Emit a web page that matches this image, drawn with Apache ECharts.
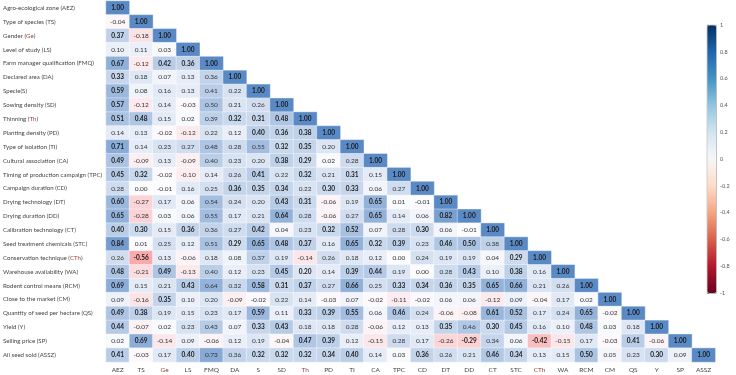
<!DOCTYPE html>
<html>
<head>
<meta charset="utf-8">
<script src="https://cdn.jsdelivr.net/npm/echarts@6/dist/echarts.min.js"></script>
<style>
  html, body { margin: 0; padding: 0; background: #fff; }
  #chart { width: 736px; height: 375px; }
</style>
</head>
<body>
<div id="chart"></div>
<script>
// short codes on the x axis
const codes = ['AEZ', 'TS', 'Ge', 'LS', 'FMQ', 'DA', 'S', 'SD', 'Th', 'PD', 'TI', 'CA', 'TPC',
  'CD', 'DT', 'DD', 'CT', 'STC', 'CTh', 'WA', 'RCM', 'CM', 'QS', 'Y', 'SP', 'ASSZ'];

// long names on the y axis
const names = ['Agro-ecological zone (AEZ)', 'Type of species (TS)', 'Gender (Ge)', 'Level of study (LS)',
  'Farm manager qualification (FMQ)', 'Declared area (DA)', 'Specie(S)', 'Sowing density (SD)',
  'Thinning (Th)', 'Planting density (PD)', 'Type of isolation (TI)', 'Cultural association (CA)',
  'Timing of production campaign (TPC)', 'Campaign duration (CD)', 'Drying technology (DT)',
  'Drying duration (DD)', 'Calibration technology (CT)', 'Seed treatment chemicals (STC)',
  'Conservation technique (CTh)', 'Warehouse availability (WA)', 'Rodent control means (RCM)',
  'Close to the market (CM)', 'Quantity of seed per hectare (QS)', 'Yield (Y)',
  'Selling price (SP)', 'All seed sold (ASSZ)'];

// lower triangle of the correlation matrix, one row per variable
const rAEZ = [1.00];
const rTS = [-0.04, 1.00];
const rGe = [0.37, -0.18, 1.00];
const rLS = [0.10, 0.11, 0.03, 1.00];
const rFMQ = [0.67, -0.12, 0.42, 0.36, 1.00];
const rDA = [0.33, 0.18, 0.07, 0.13, 0.36, 1.00];
const rS = [0.59, 0.08, 0.16, 0.13, 0.41, 0.22, 1.00];
const rSD = [0.57, -0.12, 0.14, -0.03, 0.50, 0.21, 0.26, 1.00];
const rTh = [0.51, 0.48, 0.15, 0.02, 0.39, 0.32, 0.31, 0.48, 1.00];
const rPD = [0.14, 0.13, -0.02, -0.12, 0.22, 0.12, 0.40, 0.36, 0.38, 1.00];
const rTI = [0.71, 0.14, 0.23, 0.27, 0.48, 0.28, 0.55, 0.32, 0.35, 0.20, 1.00];
const rCA = [0.49, -0.09, 0.13, -0.09, 0.40, 0.23, 0.20, 0.38, 0.29, 0.02, 0.28, 1.00];
const rTPC = [0.45, 0.32, -0.02, -0.10, 0.14, 0.26, 0.41, 0.22, 0.32, 0.21, 0.31, 0.15, 1.00];
const rCD = [0.28, 0.00, -0.01, 0.16, 0.25, 0.36, 0.35, 0.34, 0.22, 0.30, 0.33, 0.06, 0.27, 1.00];
const rDT = [0.60, -0.27, 0.17, 0.06, 0.54, 0.24, 0.20, 0.43, 0.31, -0.06, 0.19, 0.65, 0.01, -0.01, 1.00];
const rDD = [0.65, -0.28, 0.03, 0.06, 0.55, 0.17, 0.21, 0.64, 0.28, -0.06, 0.27, 0.65, 0.14, 0.06, 0.82, 1.00];
const rCT = [0.40, 0.30, 0.15, 0.36, 0.36, 0.27, 0.42, 0.04, 0.23, 0.32, 0.52, 0.07, 0.28, 0.30, 0.06, -0.01, 1.00];
const rSTC = [0.84, 0.01, 0.25, 0.12, 0.51, 0.29, 0.65, 0.48, 0.37, 0.16, 0.65, 0.32, 0.39, 0.23, 0.46, 0.50, 0.38, 1.00];
const rCTh = [0.26, -0.56, 0.13, -0.06, 0.18, 0.08, 0.37, 0.19, -0.14, 0.26, 0.18, 0.12, 0.00, 0.24, 0.19, 0.19, 0.04, 0.29, 1.00];
const rWA = [0.48, -0.21, 0.49, -0.13, 0.40, 0.12, 0.23, 0.45, 0.20, 0.14, 0.39, 0.44, 0.19, 0.00, 0.28, 0.43, 0.10, 0.38, 0.16, 1.00];
const rRCM = [0.69, 0.15, 0.21, 0.43, 0.64, 0.32, 0.58, 0.31, 0.37, 0.27, 0.66, 0.25, 0.33, 0.34, 0.36, 0.35, 0.65, 0.66, 0.21, 0.26, 1.00];
const rCM = [0.09, -0.16, 0.35, 0.10, 0.20, -0.09, -0.02, 0.22, 0.14, -0.03, 0.07, -0.02, -0.11, -0.02, 0.06, 0.06, -0.12, 0.09, -0.04, 0.17, 0.02, 1.00];
const rQS = [0.49, 0.38, 0.19, 0.15, 0.23, 0.17, 0.59, 0.11, 0.33, 0.39, 0.55, 0.06, 0.46, 0.24, -0.06, -0.08, 0.61, 0.52, 0.17, 0.24, 0.65, -0.02, 1.00];
const rY = [0.44, -0.07, 0.02, 0.23, 0.43, 0.07, 0.33, 0.43, 0.18, 0.18, 0.28, -0.06, 0.12, 0.13, 0.35, 0.46, 0.30, 0.45, 0.16, 0.10, 0.48, 0.03, 0.18, 1.00];
const rSP = [0.02, 0.69, -0.14, 0.09, -0.06, 0.12, 0.19, -0.04, 0.47, 0.39, 0.12, -0.15, 0.28, 0.17, -0.26, -0.29, 0.34, 0.06, -0.42, -0.15, 0.17, -0.03, 0.41, -0.06, 1.00];
const rASSZ = [0.41, -0.03, 0.17, 0.40, 0.73, 0.36, 0.32, 0.32, 0.32, 0.34, 0.40, 0.14, 0.03, 0.36, 0.26, 0.21, 0.46, 0.34, 0.13, 0.15, 0.50, 0.05, 0.23, 0.30, 0.09, 1.00];

const rows = [rAEZ, rTS, rGe, rLS, rFMQ, rDA, rS, rSD, rTh, rPD, rTI, rCA, rTPC, rCD, rDT, rDD,
  rCT, rSTC, rCTh, rWA, rRCM, rCM, rQS, rY, rSP, rASSZ];

// significant coefficients (printed in bold), column indexes per row; diagonal always bold
const sig = [[], [], [0], [], [0, 2, 3], [0], [0], [0], [0, 1, 5, 6, 7], [6, 7, 8], [0, 7, 8], [0, 7, 8],
  [0, 1, 6, 8, 10], [5, 6, 7, 9, 10], [0, 7, 8, 11], [0, 7, 11, 14], [0, 1, 3, 6, 9, 10, 13],
  [0, 5, 6, 7, 8, 10, 11, 12, 14, 15], [1, 17], [0, 2, 7, 8, 10, 11, 15, 17],
  [0, 3, 6, 7, 8, 10, 12, 13, 14, 15, 16, 17], [2], [0, 1, 6, 8, 9, 10, 12, 16, 17, 20],
  [0, 6, 7, 14, 16, 17, 20], [1, 8, 9, 15, 18, 22], [0, 3, 6, 7, 8, 9, 10, 13, 16, 17, 20, 23]];

// colour bar ticks
const barMin = -1, barMax = 1, barStep = 0.2;

const cells = [];
rows.forEach((row, i) => {
  row.forEach((v, j) => {
    cells.push([j, i, v, (i === j || sig[i].indexOf(j) >= 0) ? 1 : 0]);
  });
});

const flagged = ['Ge', 'Th', 'CTh'];
function markCode(s) {
  let out = s;
  flagged.forEach(c => {
    if (s === c) out = '{u|' + c + '}';
    else if (s.endsWith('(' + c + ')')) out = s.slice(0, -c.length - 1) + '{u|' + c + '})';
  });
  return out;
}
const richX = { u: { color: '#9c3b3b', fontSize: 6.5, fontFamily: 'Lato' } };
const richY = { u: { color: '#9c3b3b', fontSize: 6.1, fontFamily: 'Lato' } };

const chart = echarts.init(document.getElementById('chart'));
chart.setOption({
  animation: false,
  textStyle: { fontFamily: 'Lato' },
  grid: [
    { left: 105.3, top: 1, width: 610, height: 361 },
    { left: 707, top: 25, width: 9, height: 268 }
  ],
  xAxis: [
    {
      type: 'category', data: codes, gridIndex: 0, position: 'bottom',
      axisLine: { show: false }, axisTick: { show: false }, splitLine: { show: false },
      axisLabel: { fontSize: 6.5, color: '#444', margin: 4, interval: 0, formatter: markCode, rich: richX }
    },
    { type: 'value', gridIndex: 1, show: false, min: 0, max: 1 }
  ],
  yAxis: [
    {
      type: 'category', data: names, gridIndex: 0, inverse: true,
      axisLine: { show: false }, axisTick: { show: false }, splitLine: { show: false },
      axisLabel: { fontSize: 6.1, color: '#444', align: 'left', margin: 103, interval: 0, formatter: markCode, rich: richY }
    },
    {
      type: 'value', gridIndex: 1, position: 'right', min: barMin, max: barMax, interval: barStep,
      axisLine: { show: false }, splitLine: { show: false },
      axisTick: { show: true, length: 2, lineStyle: { color: '#666', width: 0.5 } },
      axisLabel: {
        fontSize: 5.5, color: '#555', margin: 4,
        formatter: v => { const r = Math.round(v * 10) / 10; return Math.abs(r) < 1e-9 ? '0' : String(r); }
      }
    }
  ],
  visualMap: [
    {
      show: false, seriesIndex: 0, dimension: 2, min: -1, max: 1,
      inRange: { color: ['#F8696B', '#FCFCFF', '#5A8AC6'] }
    },
    {
      show: true, type: 'continuous', seriesIndex: 1, min: barMin, max: barMax,
      calculable: false, text: ['', ''], showLabel: false,
      left: 707, top: 25, itemWidth: 9, itemHeight: 268, padding: 0,
      borderColor: '#555', borderWidth: 0.5,
      inRange: {
        color: ['#67001f', '#b2182b', '#d6604d', '#f4a582', '#fddbc7', '#f7f7f7',
          '#d1e5f0', '#92c5de', '#4393c3', '#2166ac', '#053061']
      }
    }
  ],
  series: [
    {
      type: 'heatmap', xAxisIndex: 0, yAxisIndex: 0, data: cells,
      itemStyle: { borderColor: '#fff', borderWidth: 0.4 },
      label: {
        show: true,
        formatter: p => (p.data[3] ? '{b|' : '{n|') + p.data[2].toFixed(2) + '}',
        rich: {
          b: { fontSize: 6.5, fontWeight: 'bold', color: '#1a1a1a', fontFamily: 'Lato' },
          n: { fontSize: 6.5, color: '#333', fontFamily: 'Lato' }
        }
      },
      emphasis: { disabled: true }
    },
    { type: 'scatter', xAxisIndex: 1, yAxisIndex: 1, data: [] }
  ]
});
</script>
</body>
</html>
